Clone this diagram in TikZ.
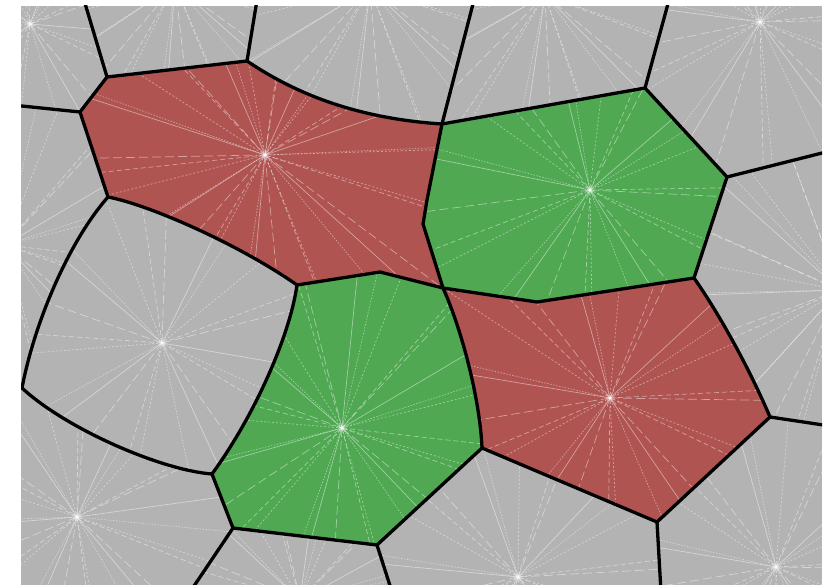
\documentclass[tikz,border=0pt]{standalone}
\definecolor{cellgray}{RGB}{179,179,180}
\definecolor{cellred}{RGB}{176,84,82}
\definecolor{cellgreen}{RGB}{80,168,82}
\tikzset{
  edge/.style={line width=3.3pt, black, line join=round, line cap=round},
  spoke/.style={white, line width=0.7pt, opacity=0.45},
  sp0/.style={dash pattern=on 1.5pt off 1.5pt},
  sp1/.style={dash pattern=on 5pt off 3pt},
  sp2/.style={},
  sp3/.style={dash pattern=on 2pt off 2pt},
  sp4/.style={dash pattern=on 9pt off 4pt},
}
\newcommand\raysfrom[3]{%
  \foreach \k in {1,...,#2}{%
    \pgfmathsetmacro\ang{#3+\k*360/#2+5*sin(\k*137)}%
    \pgfmathtruncatemacro\m{mod(\k*3,5)}%
    \draw[spoke,sp\m] (#1) -- ++(\ang:700);
  }%
  \fill[white,opacity=0.25] (#1) circle (3.5);
}
\begin{document}
\begin{tikzpicture}[x=1pt,y=-1pt]
\useasboundingbox (0,0) rectangle (834,585);
\fill[white] (0,0) rectangle (834,585);
% vertices
\coordinate (A) at (107,77);
\coordinate (B) at (80,112);
\coordinate (C) at (247,61);
\coordinate (D) at (442,124);
\coordinate (Da) at (427,200);
\coordinate (Db) at (423,224);
\coordinate (Q) at (443,288);
\coordinate (Qa) at (380,272);
\coordinate (O) at (297,285);
\coordinate (P) at (108,197);
\coordinate (F) at (645,88);
\coordinate (G) at (727,177);
\coordinate (H) at (694,278);
\coordinate (Hq) at (537,302);
\coordinate (I) at (770,417);
\coordinate (J) at (657,522);
\coordinate (K) at (482,448);
\coordinate (L) at (377,545);
\coordinate (M) at (233,528);
\coordinate (N) at (212,474);
\coordinate (V) at (22,388);
% frame ends
\coordinate (tA) at (84,0);
\coordinate (tC) at (257,0);
\coordinate (tD) at (474,0);
\coordinate (tF) at (669,0);
\coordinate (rG) at (830,151);
\coordinate (rI) at (830,426);
\coordinate (bJ) at (661,592);
\coordinate (bL) at (392,592);
\coordinate (bM) at (190,592);
\coordinate (lB) at (12,105);
\coordinate (lV) at (10,388);
% frame corners
\coordinate (f1) at (21,6);
\coordinate (f2) at (822,6);
\coordinate (f3) at (822,585);
\coordinate (f4) at (21,585);
% seeds
\coordinate (sR1) at (265,155);
\coordinate (sG1) at (590,190);
\coordinate (sG2) at (342,428);
\coordinate (sR2) at (610,398);
\coordinate (s1) at (30,24);
\coordinate (s2) at (175,-15);
\coordinate (s3) at (370,-12);
\coordinate (s4) at (545,-5);
\coordinate (s5) at (760,22);
\coordinate (s6) at (840,290);
\coordinate (s7) at (776,567);
\coordinate (s8) at (518,577);
\coordinate (s9) at (300,600);
\coordinate (s10) at (77,517);
\coordinate (s11) at (162,343);
\coordinate (s12) at (5,245);

\begin{scope}
\clip (f1) rectangle (f3);
\fill[cellgray] (f1) rectangle (f3);

% red cell 1
\begin{scope}
\clip (A) -- (C) .. controls (290,90) and (350,118) .. (D) -- (Da) -- (Db) -- (Q) -- (Qa) -- (O) .. controls (240,245) and (150,205) .. (P) -- (B) -- cycle;
\fill[cellred] (f1) rectangle (f3);
\raysfrom{sR1}{36}{3}
\end{scope}
% green cell 1
\begin{scope}
\clip (D) -- (F) -- (G) -- (H) -- (Hq) -- (Q) -- (Db) -- (Da) -- cycle;
\fill[cellgreen] (f1) rectangle (f3);
\raysfrom{sG1}{28}{7}
\end{scope}
% green cell 2
\begin{scope}
\clip (O) -- (Qa) -- (Q) .. controls (462,330) and (480,400) .. (K) -- (L) -- (M) -- (N) .. controls (255,415) and (290,335) .. (O) -- cycle;
\fill[cellgreen] (f1) rectangle (f3);
\raysfrom{sG2}{32}{2}
\end{scope}
% red cell 2
\begin{scope}
\clip (Q) -- (Hq) -- (H) .. controls (720,315) and (750,370) .. (I) -- (J) -- (K) .. controls (480,400) and (462,330) .. (Q) -- cycle;
\fill[cellred] (f1) rectangle (f3);
\raysfrom{sR2}{28}{5}
\end{scope}
% gray cells
\begin{scope}\clip (f1) -- (tA) -- (A) -- (B) -- (lB) -- cycle; \raysfrom{s1}{24}{1}\end{scope}
\begin{scope}\clip (tA) -- (tC) -- (C) -- (A) -- cycle; \raysfrom{s2}{36}{2}\end{scope}
\begin{scope}\clip (tC) -- (tD) -- (D) .. controls (350,118) and (290,90) .. (C) -- cycle; \raysfrom{s3}{36}{4}\end{scope}
\begin{scope}\clip (tD) -- (tF) -- (F) -- (D) -- cycle; \raysfrom{s4}{36}{6}\end{scope}
\begin{scope}\clip (tF) -- (f2) -- (rG) -- (G) -- (F) -- cycle; \raysfrom{s5}{28}{3}\end{scope}
\begin{scope}\clip (rG) -- (rI) -- (I) .. controls (750,370) and (720,315) .. (H) -- (G) -- cycle; \raysfrom{s6}{40}{2}\end{scope}
\begin{scope}\clip (I) -- (rI) -- (f3) -- (bJ) -- (J) -- cycle; \raysfrom{s7}{28}{5}\end{scope}
\begin{scope}\clip (J) -- (bJ) -- (bL) -- (L) -- (K) -- cycle; \raysfrom{s8}{28}{1}\end{scope}
\begin{scope}\clip (L) -- (bL) -- (bM) -- (M) -- cycle; \raysfrom{s9}{32}{4}\end{scope}
\begin{scope}\clip (M) -- (bM) -- (f4) -- (lV) -- (V) .. controls (65,428) and (160,470) .. (N) -- cycle; \raysfrom{s10}{30}{3}\end{scope}
\begin{scope}\clip (V) .. controls (35,320) and (70,240) .. (P) .. controls (150,205) and (240,245) .. (O) .. controls (290,335) and (255,415) .. (N) .. controls (160,470) and (65,428) .. (V) -- cycle; \raysfrom{s11}{24}{6}\end{scope}
\begin{scope}\clip (lB) -- (B) -- (P) .. controls (70,240) and (35,320) .. (V) -- (lV) -- cycle; \raysfrom{s12}{32}{2}\end{scope}

% edges
\draw[edge] (A) -- (tA);
\draw[edge] (A) -- (B);
\draw[edge] (B) -- (lB);
\draw[edge] (A) -- (C);
\draw[edge] (C) -- (tC);
\draw[edge] (C) .. controls (290,90) and (350,118) .. (D);
\draw[edge] (D) -- (tD);
\draw[edge] (D) -- (F);
\draw[edge] (F) -- (tF);
\draw[edge] (F) -- (G);
\draw[edge] (G) -- (rG);
\draw[edge] (G) -- (H);
\draw[edge] (H) .. controls (720,315) and (750,370) .. (I);
\draw[edge] (I) -- (rI);
\draw[edge] (I) -- (J);
\draw[edge] (J) -- (bJ);
\draw[edge] (J) -- (K);
\draw[edge] (K) -- (L);
\draw[edge] (L) -- (bL);
\draw[edge] (L) -- (M);
\draw[edge] (M) -- (bM);
\draw[edge] (M) -- (N);
\draw[edge] (N) .. controls (160,470) and (65,428) .. (V);
\draw[edge] (V) -- (lV);
\draw[edge] (V) .. controls (35,320) and (70,240) .. (P);
\draw[edge] (P) -- (B);
\draw[edge] (P) .. controls (150,205) and (240,245) .. (O);
\draw[edge] (N) .. controls (255,415) and (290,335) .. (O);
\draw[edge] (O) -- (Qa) -- (Q);
\draw[edge] (Q) -- (Db) -- (Da) -- (D);
\draw[edge] (Q) -- (Hq) -- (H);
\draw[edge] (Q) .. controls (462,330) and (480,400) .. (K);
\end{scope}
\end{tikzpicture}
\end{document}
